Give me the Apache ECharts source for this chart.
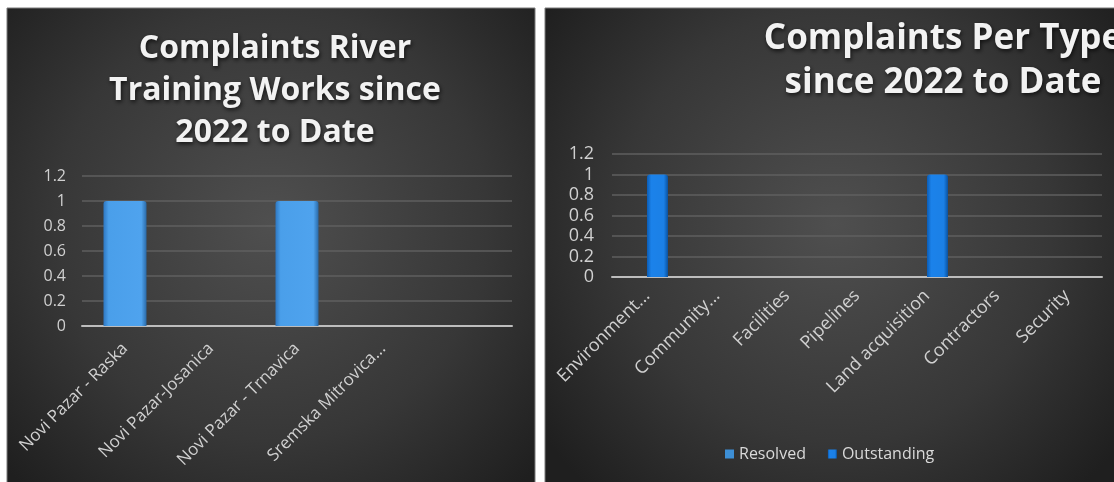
<!DOCTYPE html>
<html>
<head>
<meta charset="utf-8">
<script src="https://cdn.jsdelivr.net/npm/echarts@6/dist/echarts.min.js"></script>
<style>
html,body{margin:0;padding:0;background:#ffffff;}
#c{width:1114px;height:482px;}
</style>
</head>
<body>
<div id="c"></div>
<script>
// ---- data ----
var riverCategories = ['Novi Pazar - Raska', 'Novi Pazar-Josanica', 'Novi Pazar - Trnavica', 'Sremska Mitrovica...', ''];
var riverValues = [1, 0, 1, 0, null];
var typeCategories = ['Environment...', 'Community...', 'Facilities', 'Pipelines', 'Land acquisition', 'Contractors', 'Security'];
var resolvedValues = [0, 0, 0, 0, 0, 0, 0];
var outstandingValues = [1, 0, 0, 0, 1, 0, 0];
var leftTitle = 'Complaints River\nTraining Works since\n2022 to Date';
var rightTitle = 'Complaints Per Type\nsince 2022 to Date';
var yMin = 0, yMax = 1.2, yStep = 0.2;

var chart = echarts.init(document.getElementById('c'));
var FONT = '"Open Sans", "Noto Sans", sans-serif';

function panelBg(x, w) {
  return {
    type: 'rect', z: -10, silent: true,
    shape: {x: x, y: 8, width: w, height: 480},
    style: {
      fill: new echarts.graphic.RadialGradient(0.5, 0.45, 0.75, [
        {offset: 0, color: '#4f4f4f'},
        {offset: 0.6, color: '#373737'},
        {offset: 1, color: '#1f1f1f'}
      ]),
      stroke: '#7a7a7a', lineWidth: 1
    }
  };
}

var leftBarColor = new echarts.graphic.LinearGradient(0, 0, 1, 0, [
  {offset: 0, color: '#2f78c2'},
  {offset: 0.12, color: '#4a9fea'},
  {offset: 0.88, color: '#4fa3ee'},
  {offset: 1, color: '#2a6aa8'}
]);
var outBarColor = new echarts.graphic.LinearGradient(0, 0, 1, 0, [
  {offset: 0, color: '#0b5cb5'},
  {offset: 0.2, color: '#1b82ea'},
  {offset: 0.8, color: '#1b80e6'},
  {offset: 1, color: '#0a52a0'}
]);
var resBarColor = '#3d8fd6';

var titleShadow = {textShadowColor: 'rgba(0,0,0,0.7)', textShadowBlur: 4, textShadowOffsetX: 1, textShadowOffsetY: 2};

chart.setOption({
  backgroundColor: '#ffffff',
  animation: false,
  graphic: [panelBg(7, 528), panelBg(545, 580)],
  title: [
    {text: leftTitle, left: 270, top: 23, textAlign: 'center',
     textStyle: Object.assign({color: '#f2f2f2', fontFamily: FONT, fontWeight: 'bold', fontSize: 32, lineHeight: 42}, titleShadow)},
    {text: rightTitle, left: 938, top: 12, textAlign: 'center',
     textStyle: Object.assign({color: '#f2f2f2', fontFamily: FONT, fontWeight: 'bold', fontSize: 35, lineHeight: 44}, titleShadow)}
  ],
  legend: {
    data: ['Resolved', 'Outstanding'],
    left: 720, top: 441,
    icon: 'rect', itemWidth: 9, itemHeight: 9, itemGap: 22,
    textStyle: {color: '#d9d9d9', fontFamily: FONT, fontSize: 16}
  },
  grid: [
    {left: 82, right: 602, top: 176, bottom: 156},
    {left: 612, right: 12, top: 154, bottom: 205}
  ],
  xAxis: [
    {type: 'category', gridIndex: 0, data: riverCategories,
     axisTick: {show: false},
     axisLine: {lineStyle: {color: '#bdbdbd', width: 2}},
     axisLabel: {rotate: 45, color: '#d0d0d0', fontFamily: FONT, fontSize: 17, margin: 20, interval: 0}},
    {type: 'category', gridIndex: 1, data: typeCategories,
     axisTick: {show: false},
     axisLine: {lineStyle: {color: '#bdbdbd', width: 2}},
     axisLabel: {rotate: 45, color: '#d0d0d0', fontFamily: FONT, fontSize: 18, margin: 16, interval: 0}}
  ],
  yAxis: [
    {type: 'value', gridIndex: 0, min: yMin, max: yMax, interval: yStep,
     axisLine: {show: false}, axisTick: {show: false},
     splitLine: {lineStyle: {color: '#5f5f5f', width: 1.5}},
     axisLabel: {color: '#d0d0d0', fontFamily: FONT, fontSize: 16, margin: 16}},
    {type: 'value', gridIndex: 1, min: yMin, max: yMax, interval: yStep,
     axisLine: {show: false}, axisTick: {show: false},
     splitLine: {lineStyle: {color: '#5f5f5f', width: 1.5}},
     axisLabel: {color: '#d0d0d0', fontFamily: FONT, fontSize: 18, margin: 18}}
  ],
  series: [
    {type: 'bar', xAxisIndex: 0, yAxisIndex: 0, data: riverValues, barWidth: '50%',
     itemStyle: {color: leftBarColor, borderRadius: [3, 3, 0, 0]}},
    {name: 'Resolved', type: 'bar', xAxisIndex: 1, yAxisIndex: 1, data: resolvedValues,
     barWidth: 21, barGap: '0%', itemStyle: {color: resBarColor}},
    {name: 'Outstanding', type: 'bar', xAxisIndex: 1, yAxisIndex: 1, data: outstandingValues,
     barWidth: 21, barGap: '0%', itemStyle: {color: outBarColor, borderRadius: [3, 3, 0, 0]}}
  ]
});
</script>
</body>
</html>
